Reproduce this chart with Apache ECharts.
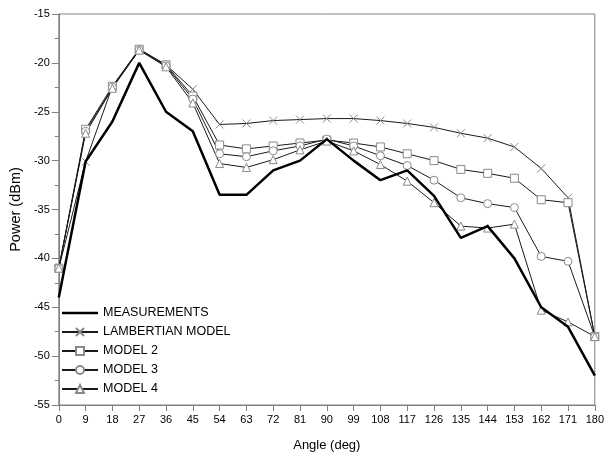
<!DOCTYPE html>
<html>
<head>
<meta charset="utf-8">
<script src="https://cdn.jsdelivr.net/npm/echarts@6/dist/echarts.min.js"></script>
<style>
  html, body { margin: 0; padding: 0; background: #fff; }
  #chart { width: 607px; height: 457px; }
</style>
</head>
<body>
<div id="chart"></div>
<script>
// Received power versus angle: measurement and four model predictions
const angles = [0, 9, 18, 27, 36, 45, 54, 63, 72, 81, 90, 99, 108, 117, 126, 135, 144, 153, 162, 171, 180];

const measurements = [-44, -30.1, -26, -20, -25, -27, -33.5, -33.5, -31, -30, -27.8, -30, -32, -31, -33.6, -37.9, -36.7, -40, -45, -47, -52];
const lambertian   = [-41, -30.1, -22.4, -18.6, -20.2, -22.7, -26.3, -26.2, -25.9, -25.8, -25.7, -25.7, -25.9, -26.2, -26.6, -27.2, -27.7, -28.6, -30.8, -33.8, -48];
const model2       = [-41, -26.8, -22.4, -18.6, -20.2, -23.4, -28.4, -28.8, -28.5, -28.2, -27.9, -28.2, -28.6, -29.3, -30.0, -30.9, -31.3, -31.8, -34.0, -34.3, -48];
const model3       = [-41, -27.0, -22.5, -18.7, -20.3, -23.7, -29.3, -29.6, -29.0, -28.5, -27.8, -28.5, -29.5, -30.5, -32.0, -33.8, -34.4, -34.8, -39.8, -40.3, -48];
const model4       = [-41, -27.2, -22.6, -18.7, -20.4, -24.1, -30.3, -30.7, -29.9, -28.9, -28.0, -29.0, -30.4, -32.1, -34.3, -36.7, -36.9, -36.5, -45.3, -46.5, -48];

const seriesNames = ['MEASUREMENTS', 'LAMBERTIAN MODEL', 'MODEL 2', 'MODEL 3', 'MODEL 4'];

const pairs = vals => angles.map((a, i) => [a, vals[i]]);

const AXIS_GRAY = '#808080';
const MARK_GRAY = '#8a8a8a';
const crossPath = 'path://M0,0L10,10M10,0L0,10';
const thickBar = 'path://M0,0h36v2.5h-36z';

function modelSeries(name, vals, symbol) {
  return {
    name: name,
    type: 'line',
    data: pairs(vals),
    symbol: symbol,
    symbolSize: 8,
    showAllSymbol: true,
    lineStyle: { color: '#1a1a1a', width: 1 },
    itemStyle: { color: '#fff', borderColor: MARK_GRAY, borderWidth: 1 },
    emphasis: { disabled: true },
    z: 2
  };
}

const chart = echarts.init(document.getElementById('chart'), null, { renderer: 'canvas' });
chart.setOption({
  animation: false,
  backgroundColor: '#fff',
  textStyle: { fontFamily: 'Liberation Sans, Arial, sans-serif' },
  grid: {
    left: 53, right: 9, top: 14, bottom: 50,
    show: true, borderColor: AXIS_GRAY, borderWidth: 1, backgroundColor: 'transparent'
  },
  legend: {
    orient: 'vertical',
    left: 56, top: 301,
    itemWidth: 36, itemHeight: 10, itemGap: 5,
    textStyle: { fontSize: 12.5, lineHeight: 14, color: '#000', fontFamily: 'Liberation Sans, Arial, sans-serif' },
    data: [
      { name: seriesNames[0], icon: thickBar, itemStyle: { color: '#000' } },
      seriesNames[1], seriesNames[2], seriesNames[3], seriesNames[4]
    ]
  },
  xAxis: {
    type: 'value',
    min: 0, max: 180, interval: 9,
    name: 'Angle (deg)',
    nameLocation: 'middle',
    nameGap: 34,
    nameTextStyle: { fontSize: 13, color: '#000' },
    axisLine: { show: true, onZero: false, lineStyle: { color: AXIS_GRAY } },
    axisTick: { show: true, length: 6, lineStyle: { color: AXIS_GRAY } },
    axisLabel: { fontSize: 11, color: '#000', margin: 9 },
    splitLine: { show: false }
  },
  yAxis: [
    {
      type: 'value',
      min: -55, max: -15, interval: 5,
      name: 'Power (dBm)',
      nameLocation: 'middle',
      nameGap: 33,
      nameTextStyle: { fontSize: 14.5, color: '#000' },
      axisLine: { show: true, onZero: false, lineStyle: { color: AXIS_GRAY } },
      axisTick: { show: true, length: 6, lineStyle: { color: AXIS_GRAY } },
      minorTick: { show: true, splitNumber: 2, length: 3, lineStyle: { color: AXIS_GRAY } },
      axisLabel: { fontSize: 11, color: '#000', margin: 9 },
      splitLine: { show: false }
    },
    {
      type: 'value',
      position: 'right',
      min: -55, max: -15, interval: 5,
      axisLine: { show: false },
      axisTick: { show: true, inside: true, length: 7, lineStyle: { color: AXIS_GRAY } },
      minorTick: { show: true, splitNumber: 2, length: 4, lineStyle: { color: AXIS_GRAY } },
      axisLabel: { show: false },
      splitLine: { show: false }
    }
  ],
  series: [
    {
      name: seriesNames[0],
      type: 'line',
      data: pairs(measurements),
      symbol: 'none',
      lineStyle: { color: '#000', width: 2.5 },
      itemStyle: { color: '#000' },
      emphasis: { disabled: true },
      z: 3
    },
    modelSeries(seriesNames[1], lambertian, crossPath),
    modelSeries(seriesNames[2], model2, 'rect'),
    modelSeries(seriesNames[3], model3, 'circle'),
    modelSeries(seriesNames[4], model4, 'triangle')
  ]
});
</script>
</body>
</html>
